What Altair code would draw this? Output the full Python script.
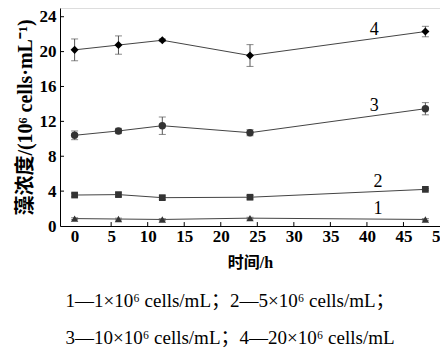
import altair as alt
import pandas as pd

times = [0, 6, 12, 24, 48]
s1 = [0.85, 0.8, 0.75, 0.9, 0.75]
e1 = [0.1, 0.1, 0.1, 0.1, 0.1]
s2 = [3.55, 3.6, 3.25, 3.3, 4.2]
e2 = [0.2, 0.2, 0.2, 0.2, 0.1]
s3 = [10.4, 10.9, 11.5, 10.7, 13.45]
e3 = [0.5, 0.3, 1.0, 0.35, 0.7]
s4 = [20.2, 20.75, 21.3, 19.55, 22.3]
e4 = [1.25, 1.05, 0.15, 1.25, 0.6]

series_names = ["1", "2", "3", "4"]
series_vals = [s1, s2, s3, s4]
series_errs = [e1, e2, e3, e4]
shapes = ["triangle-up", "square", "circle", "diamond"]
colors = ["#333333", "#333333", "#333333", "#000000"]
sizes = [55, 45, 55, 65]

label_x = [41.5, 41.5, 41, 41]
label_y = [1.9, 5.1, 13.8, 22.5]

x_ticks = [0, 5, 10, 15, 20, 25, 30, 35, 40, 45, 50]
y_ticks = [0, 4, 8, 12, 16, 20, 24]

rows = []
for name, vals, errs in zip(series_names, series_vals, series_errs):
    for t, v, e in zip(times, vals, errs):
        rows.append({"s": name, "t": t, "v": v, "lo": v - e, "hi": v + e})
df = pd.DataFrame(rows)

lab_df = pd.DataFrame({"s": series_names, "x": label_x, "y": label_y})
xt_df = pd.DataFrame({"x": x_ticks[1:-1], "y0": 0.0, "y1": 0.45})
yt_df = pd.DataFrame({"y": y_ticks[1:], "x0": -2.0, "x1": -1.45})

serif = "Liberation Serif"
mix = "Liberation Serif, Noto Sans CJK SC"

xs = alt.Scale(domain=[-2, 50], nice=False)
ys = alt.Scale(domain=[0, 25], nice=False)

x_axis = alt.Axis(
    values=x_ticks, title="时间/h", ticks=False, grid=False, labelFont=serif,
    labelFontWeight="bold", labelFontSize=17, labelColor="black", labelPadding=2,
    labelOverlap=False, titleFont=mix, titleFontWeight="bold", titleFontSize=16,
    titleColor="black", titlePadding=10, domainColor="black", labelFlush=False)
y_axis = alt.Axis(
    values=y_ticks, title="藻浓度/(10⁶ cells·mL⁻¹)", ticks=False, grid=False,
    labelFont=serif, labelFontWeight="bold", labelFontSize=17, labelColor="black",
    labelPadding=4, labelOverlap=False, titleFont=mix, titleFontWeight="bold",
    titleFontSize=20, titleColor="black", titlePadding=4, domainColor="black")


def X(f):
    return alt.X(f, scale=xs, axis=x_axis)


def Y(f):
    return alt.Y(f, scale=ys, axis=y_axis)


layers = []
for name, shp, col, sz in zip(series_names, shapes, colors, sizes):
    sub = df[df.s == name]
    base = alt.Chart(sub)
    layers.append(base.mark_line(color="#444444", strokeWidth=1).encode(x=X("t:Q"), y=Y("v:Q")))
    layers.append(base.mark_rule(color="#555555", strokeWidth=1).encode(
        x=X("t:Q"), y=Y("lo:Q"), y2="hi:Q"))
    layers.append(base.mark_tick(color="#555555", orient="horizontal", size=7, thickness=1).encode(
        x=X("t:Q"), y=Y("lo:Q")))
    layers.append(base.mark_tick(color="#555555", orient="horizontal", size=7, thickness=1).encode(
        x=X("t:Q"), y=Y("hi:Q")))
    layers.append(base.mark_point(shape=shp, filled=True, color=col, size=sz, opacity=1).encode(
        x=X("t:Q"), y=Y("v:Q")))

labels = alt.Chart(lab_df).mark_text(font=serif, fontSize=18, color="black").encode(
    x=X("x:Q"), y=Y("y:Q"), text="s:N")
xt = alt.Chart(xt_df).mark_rule(color="black", strokeWidth=1).encode(
    x=X("x:Q"), y=Y("y0:Q"), y2="y1:Q")
yt = alt.Chart(yt_df).mark_rule(color="black", strokeWidth=1).encode(
    y=Y("y:Q"), x=X("x0:Q"), x2="x1:Q")

chart = alt.layer(*layers, labels, xt, yt).properties(
    width=380, height=218,
    autosize=alt.AutoSizeParams(type="none"),
    padding={"left": 52, "top": 0, "right": 0, "bottom": 124},
    title=alt.TitleParams(
        text=["1—1×10⁶ cells/mL；2—5×10⁶ cells/mL；",
              "3—10×10⁶ cells/mL；4—20×10⁶ cells/mL"],
        orient="bottom", anchor="middle", frame="group", font=mix, fontSize=19,
        fontWeight="normal", color="black", lineHeight=37, offset=22, dx=-20),
).configure_view(stroke="black", strokeWidth=1.2).configure(background="white")

chart.save("out.html", embed_options={"renderer": "svg", "actions": False})
